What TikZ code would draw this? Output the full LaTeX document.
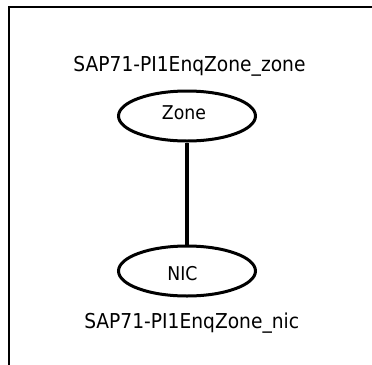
\documentclass[tikz,border=0pt]{standalone}
\usepackage{fontspec}
\setmainfont{DejaVu Sans}[FakeStretch=0.91]
\usetikzlibrary{shapes.geometric}
\begin{document}
\begin{tikzpicture}[x=1bp,y=-1bp,
  objnode/.style={ellipse,draw,line width=3bp,inner sep=0pt,
    minimum width=137bp,minimum height=50bp},
  caption/.style={anchor=base,inner sep=0pt,font=\fontsize{20.5bp}{24bp}\selectfont},
  inlabel/.style={anchor=base,inner sep=0pt,font=\fontsize{19bp}{22bp}\selectfont},
  link/.style={line width=4.5bp}]
\useasboundingbox (0,0) rectangle (372,365);
% frame
\draw[line width=2bp] (9,365) -- (9,6.5) -- (372,6.5);
% objects
\node[objnode] (zone) at (187,116) {};
\node[objnode] (nic) at (187,271) {};
\node[inlabel] (zonetxt) at (184,119.3) {Zone};
\node[inlabel] (nictxt) at (182.5,280) {NIC};
\node[caption] (zonecap) at (189.5,71.7) {SAP71-PI1EnqZone\_zone};
\node[caption] (niccap) at (191.7,328.3) {SAP71-PI1EnqZone\_nic};
% relation
\draw[link] (zone) -- (nic);
\end{tikzpicture}
\end{document}
